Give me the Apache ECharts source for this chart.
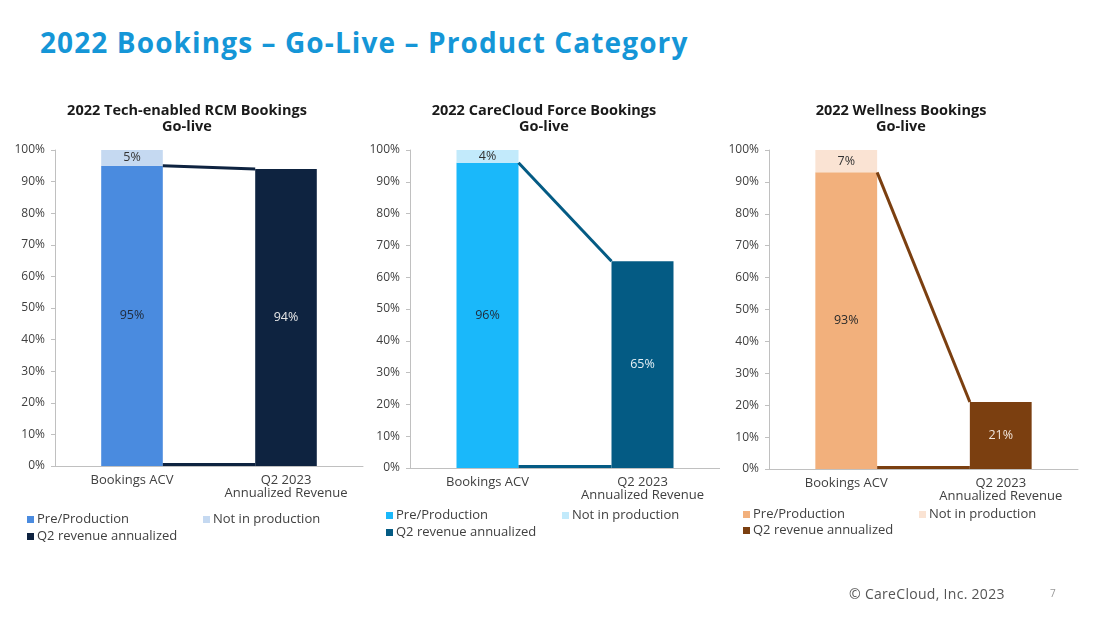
<!DOCTYPE html>
<html>
<head>
<meta charset="utf-8">
<script src="https://cdn.jsdelivr.net/npm/echarts@6/dist/echarts.min.js"></script>
<style>
  html, body { margin: 0; padding: 0; background: #fff; overflow: hidden; }
  #page { position: relative; width: 1100px; height: 619px; overflow: hidden; font-family: "Open Sans", sans-serif; }
  .chart { position: absolute; top: 0; height: 619px; }
  #mainTitle { position: absolute; left: 40px; top: 23px; font-size: 28px; letter-spacing: 1.1px; font-weight: bold; color: #1596d7; white-space: nowrap; }
  #footer { position: absolute; left: 849px; top: 584px; font-size: 14px; letter-spacing: 0.3px; color: #555; }
  #pageNum { position: absolute; left: 1050px; top: 586px; font-size: 10px; color: #999; }
</style>
</head>
<body>
<div id="page">
  <div id="mainTitle">2022 Bookings – Go-Live – Product Category</div>
  <div id="chart1" class="chart" style="left:0;width:366px"></div>
  <div id="chart2" class="chart" style="left:366px;width:354px"></div>
  <div id="chart3" class="chart" style="left:720px;width:380px"></div>
  <div id="footer">© CareCloud, Inc. 2023</div>
  <div id="pageNum">7</div>
</div>
<script>
// data
const categories = ['Bookings ACV', 'Q2 2023\nAnnualized Revenue'];
const yTicks = { min: 0, max: 100, interval: 10 };

const chartTitles = [
  '2022 Tech-enabled RCM Bookings\nGo-live',
  '2022 CareCloud Force Bookings\nGo-live',
  '2022 Wellness Bookings\nGo-live',
];
const preProduction = [95, 96, 93];
const notInProduction = [5, 4, 7];
const q2Revenue = [94, 65, 21];

// per-chart look (positions / colours)
const layouts = [
  { id: 'chart1', titleX: 187, grid: { left: 55, top: 150, width: 308, height: 316 }, legendX: [27, 203], legendY: [513, 530],
    colors: ['#4a8bdf', '#c5d9f1', '#0e2340'], labelColors: ['#1f2a3a', '#333', '#e6e6e6'] },
  { id: 'chart2', titleX: 178, grid: { left: 44, top: 150, width: 310, height: 318 }, legendX: [20, 196], legendY: [509, 526],
    colors: ['#1ab8fa', '#c2eafb', '#045b84'], labelColors: ['#1f2a3a', '#333', '#e6f0f5'] },
  { id: 'chart3', titleX: 181, grid: { left: 49, top: 150, width: 309, height: 319 }, legendX: [23, 199], legendY: [508, 524],
    colors: ['#f2b07c', '#fae3d3', '#7b3f10'], labelColors: ['#2a2a2a', '#333', '#f2e6dc'] },
];

const seriesNames = ['Pre/Production', 'Not in production', 'Q2 revenue annualized'];
const BAR_RATIO = 0.4;
const textColor = '#404040';
const axisColor = '#c0c0c0';

function buildOption(i) {
  const lay = layouts[i];
  const barLabel = (color) => ({
    show: true,
    position: 'inside',
    color: color,
    fontSize: 12.5,
    fontFamily: 'Open Sans',
    formatter: (p) => p.value + '%',
  });
  const legendItem = (name, x, y) => ({
    data: [name],
    left: x,
    top: y,
    padding: 0,
    icon: 'rect',
    itemWidth: 7,
    itemHeight: 7,
    itemGap: 0,
    textStyle: { color: textColor, fontSize: 13, fontFamily: 'Open Sans', padding: [0, 0, 0, -2] },
  });

  return {
    animation: false,
    title: {
      text: chartTitles[i],
      left: lay.titleX,
      top: 103,
      padding: 0,
      textAlign: 'center',
      textStyle: { fontSize: 14.5, fontWeight: 'bold', color: '#1a1a1a', lineHeight: 16, fontFamily: 'Open Sans' },
    },
    legend: [
      legendItem(seriesNames[0], lay.legendX[0], lay.legendY[0]),
      legendItem(seriesNames[1], lay.legendX[1], lay.legendY[0]),
      legendItem(seriesNames[2], lay.legendX[0], lay.legendY[1]),
    ],
    grid: Object.assign({ outerBoundsMode: 'none', containLabel: false }, lay.grid),
    xAxis: {
      type: 'category',
      data: categories,
      axisLine: { lineStyle: { color: axisColor } },
      axisTick: { show: false },
      axisLabel: { interval: 0, color: textColor, fontSize: 13, lineHeight: 13, margin: 8, fontFamily: 'Open Sans' },
    },
    yAxis: {
      type: 'value',
      min: yTicks.min,
      max: yTicks.max,
      interval: yTicks.interval,
      splitLine: { show: false },
      axisLine: { show: true, lineStyle: { color: axisColor } },
      axisTick: { show: true, length: 4, lineStyle: { color: axisColor } },
      axisLabel: { formatter: '{value}%', color: textColor, fontSize: 12, margin: 10, fontFamily: 'Open Sans' },
    },
    series: [
      {
        name: seriesNames[0], type: 'bar', stack: 'go', barWidth: BAR_RATIO * 100 + '%',
        data: [preProduction[i], '-'],
        itemStyle: { color: lay.colors[0] },
        label: barLabel(lay.labelColors[0]),
      },
      {
        name: seriesNames[1], type: 'bar', stack: 'go',
        data: [notInProduction[i], '-'],
        itemStyle: { color: lay.colors[1] },
        label: barLabel(lay.labelColors[1]),
      },
      {
        name: seriesNames[2], type: 'bar', stack: 'go',
        data: ['-', q2Revenue[i]],
        itemStyle: { color: lay.colors[2] },
        label: barLabel(lay.labelColors[2]),
      },
      {
        // series lines joining the two bars (top and bottom)
        type: 'custom',
        silent: true,
        z: 5,
        dimensions: ['x0', 'y0', 'x1', 'y1'],
        encode: { x: [0, 2], y: [1, 3] },
        data: [
          [0, preProduction[i], 1, q2Revenue[i]],
          [0, 0, 1, 0],
        ],
        renderItem: (params, api) => {
          const p0 = api.coord([api.value(0), api.value(1)]);
          const p1 = api.coord([api.value(2), api.value(3)]);
          const half = api.size([1, 0])[0] * BAR_RATIO / 2;
          const lift = api.value(1) === 0 ? 1.5 : 0;
          return {
            type: 'line',
            shape: { x1: p0[0] + half, y1: p0[1] - lift, x2: p1[0] - half, y2: p1[1] - lift },
            style: { stroke: lay.colors[2], lineWidth: 3 },
          };
        },
      },
    ],
  };
}

layouts.forEach((lay, i) => {
  const chart = echarts.init(document.getElementById(lay.id));
  chart.setOption(buildOption(i));
});
</script>
</body>
</html>
